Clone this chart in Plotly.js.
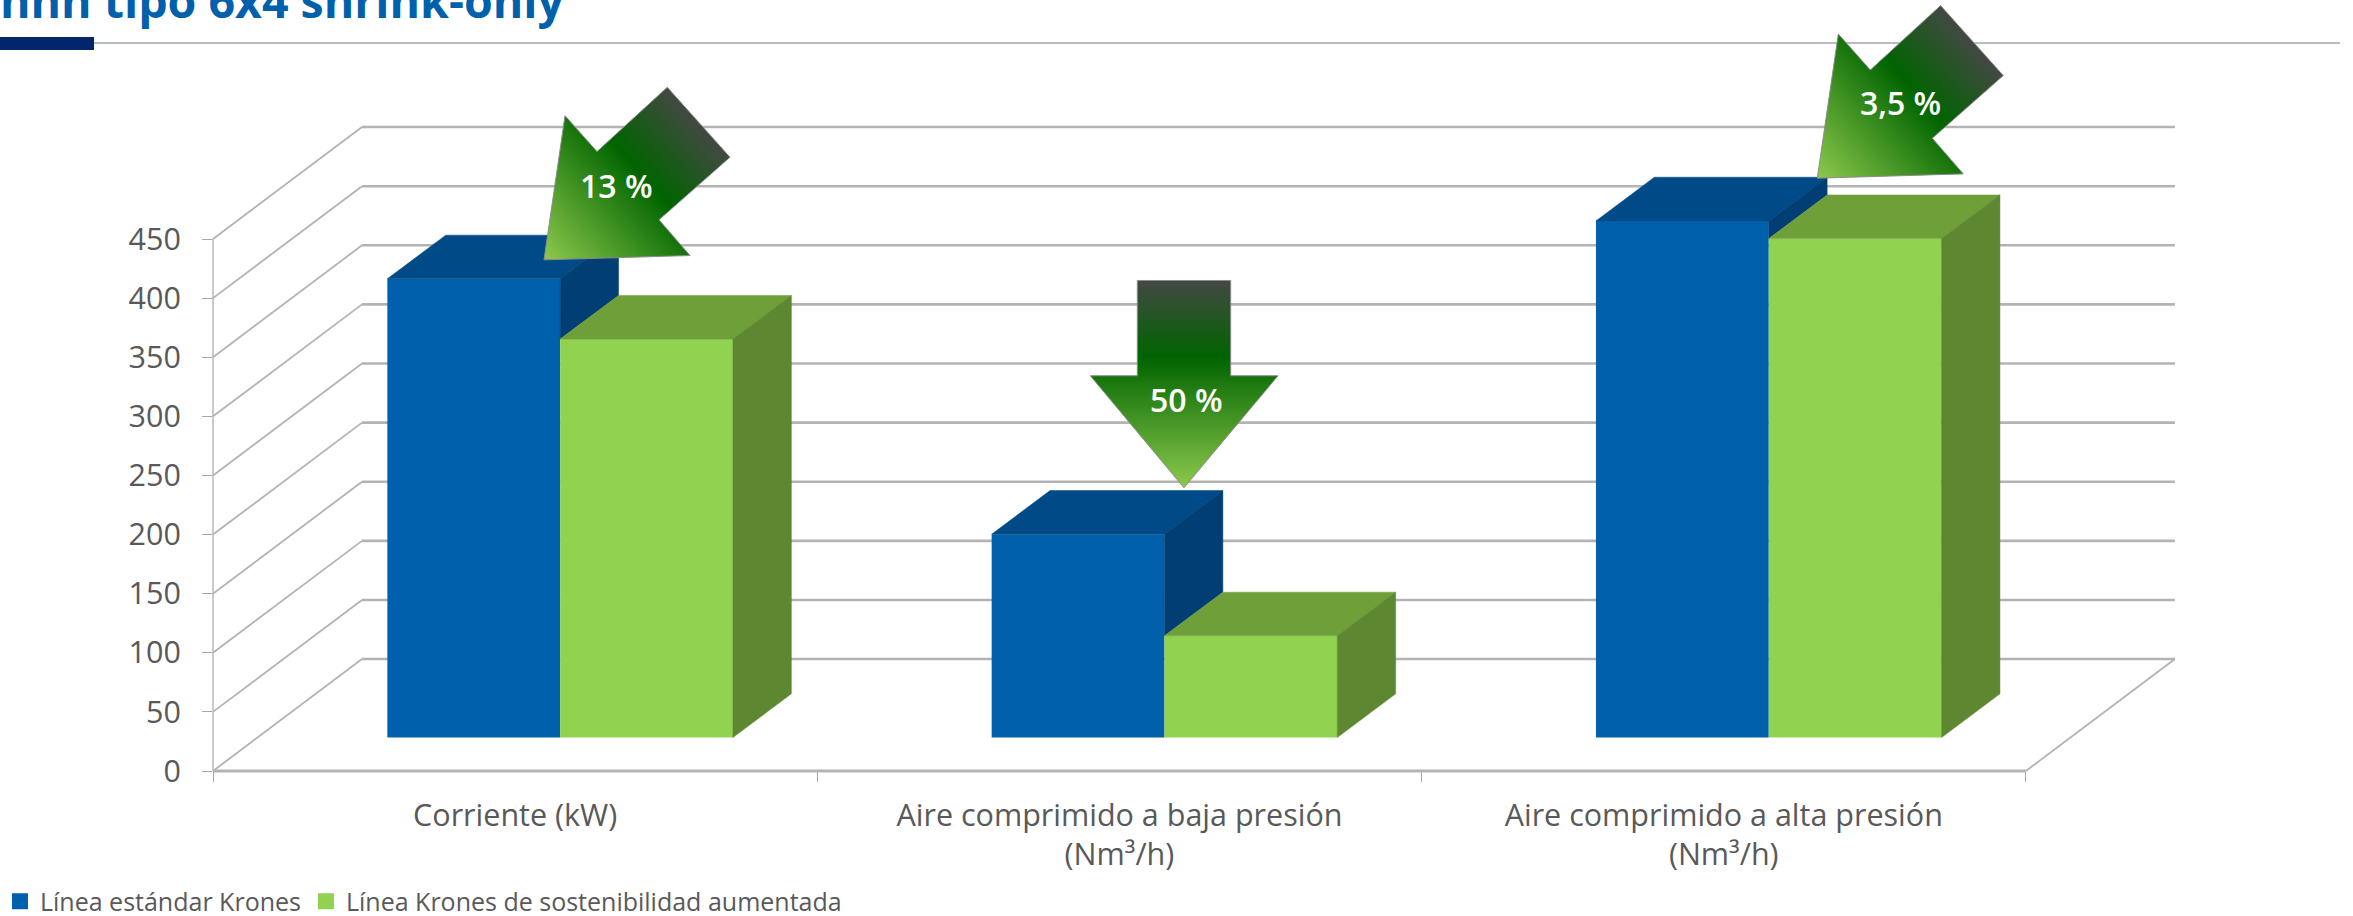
<!DOCTYPE html>
<html><head><meta charset="utf-8">
<script src="https://cdn.plot.ly/plotly-3.0.1.min.js"></script>
<style>html,body{margin:0;padding:0;background:#fff}</style></head>
<body><div id="chart" style="width:2353px;height:916px"></div>
<script>
const chartTitle = 'nnn tipo 6x4 shrink-only';
const categories = ['Corriente (kW)', 'Aire comprimido a baja presión<br>(Nm³/h)', 'Aire comprimido a alta presión<br>(Nm³/h)'];
const standardName = 'Línea estándar Krones';
const sustainableName = 'Línea Krones de sostenibilidad aumentada';
const standardValues = [388, 172, 437];
const sustainableValues = [337, 86, 422];
const yTicks = [0, 50, 100, 150, 200, 250, 300, 350, 400, 450];
const arrowLabels = ['13 %', '50 %', '3,5 %'];

const W = 2353, H = 916, L = 213, BOT = 771.5;
const pxPerCat = 604.3, pxPerVal = 1.183;
const xr = [-0.5, -0.5 + (W - L) / pxPerCat], yr = [0, BOT / pxPerVal];
const X = px => (px - L) / pxPerCat - 0.5, Y = py => (BOT - py) / pxPerVal;
const PX = px => (px - L) / (W - L), PY = py => 1 - py / BOT;
const dxW = 149 / pxPerCat, dyW = 112 / pxPerVal;           // wall depth
const fx = 45 / pxPerCat, base = 33.5 / pxPerVal;           // bar front inset
const bw = 172.8 / pxPerCat, bdx = 58.4 / pxPerCat, bdy = 43.7 / pxPerVal; // bar size
const xp = x => (x - xr[0]) / (xr[1] - xr[0]), yp = y => y / yr[1];

const C = {blue:'#0060ab', blueTop:'#004a87', blueSide:'#003e73', green:'#91d251', greenTop:'#6e9f39', greenSide:'#5d8731', grid:'#b3b3b3'};

const shapes = [];
const seg = (x0,y0,x1,y1,w,col) => shapes.push({type:'line',layer:'below',xref:'paper',yref:'paper',x0:xp(x0),y0:yp(y0),x1:xp(x1),y1:yp(y1),line:{color:col||C.grid,width:w}});
yTicks.forEach(v => {
  seg(-0.5, v, -0.5 + dxW, v + dyW, 1.8);
  seg(-0.5 + dxW, v + dyW, 2.5 + dxW, v + dyW, 2.6);
});
seg(-0.5, 0, 2.5, 0, 2.8);
seg(2.5, 0, 2.5 + dxW, dyW, 1.8);
seg(-0.5, 0, -0.5, yTicks[yTicks.length-1], 1.4);
// header rule and accent
shapes.push({type:'line',layer:'below',xref:'paper',yref:'paper',x0:PX(94),x1:PX(2340),y0:PY(43),y1:PY(43),line:{color:'#b9bdc1',width:2}});
shapes.push({type:'rect',layer:'below',xref:'paper',yref:'paper',x0:PX(0),x1:PX(94),y0:PY(37),y1:PY(50),fillcolor:'#03256c',line:{width:0}});

function face(xs, ys, color){
  return {type:'scatter',mode:'lines',x:xs,y:ys,fill:'toself',fillcolor:color,line:{color:color,width:0.5},hoverinfo:'skip',showlegend:false};
}
const traces = [];
const cx = categories.map((c,i)=>i+fx);
traces.push({type:'bar',name:standardName,x:cx,y:standardValues,base:base,width:bw,offset:-bw,marker:{color:C.blue,line:{width:0}},showlegend:false,hoverinfo:'skip'});
traces.push({type:'bar',name:sustainableName,x:cx,y:sustainableValues,base:base,width:bw,offset:0,marker:{color:C.green,line:{width:0}},showlegend:false,hoverinfo:'skip'});
categories.forEach((c,i)=>{
  const m = cx[i], a = standardValues[i]+base, b = sustainableValues[i]+base;
  traces.push(face([m-bw,m,m+bdx,m-bw+bdx,m-bw],[a,a,a+bdy,a+bdy,a],C.blueTop));
  traces.push(face([m,m+bdx,m+bdx,m,m],[a,a+bdy,b+bdy,b,a],C.blueSide));
  traces.push(face([m,m+bw,m+bw+bdx,m+bdx,m],[b,b,b+bdy,b+bdy,b],C.greenTop));
  traces.push(face([m+bw,m+bw+bdx,m+bw+bdx,m+bw,m+bw],[b,b+bdy,base+bdy,base,b],C.greenSide));
});
// legend entries
traces.push({type:'scatter',mode:'markers',name:standardName,x:[null],y:[null],marker:{symbol:'square',size:16,color:C.blue},showlegend:true});
traces.push({type:'scatter',mode:'markers',name:sustainableName,x:[null],y:[null],marker:{symbol:'square',size:16,color:C.green},showlegend:true});

// gradient arrows as inline SVG
function arrowImage(pts, from, to){
  const xs = pts.map(p=>p[0]), ys = pts.map(p=>p[1]);
  const x0 = Math.min(...xs)-2, x1 = Math.max(...xs)+2, y0 = Math.min(...ys)-2, y1 = Math.max(...ys)+2;
  const w = x1-x0, h = y1-y0;
  const svg = `<svg xmlns="http://www.w3.org/2000/svg" width="${w}" height="${h}" viewBox="${x0} ${y0} ${w} ${h}"><defs><linearGradient id="g" gradientUnits="userSpaceOnUse" x1="${from[0]}" y1="${from[1]}" x2="${to[0]}" y2="${to[1]}"><stop offset="0" stop-color="#434843"/><stop offset="0.37" stop-color="#006400"/><stop offset="1" stop-color="#8dc94c"/></linearGradient></defs><polygon points="${pts.map(p=>p.join(',')).join(' ')}" fill="url(#g)" stroke="#8c8c8c" stroke-width="1"/></svg>`;
  return {source:'data:image/svg+xml;charset=utf-8,'+encodeURIComponent(svg),xref:'paper',yref:'paper',x:PX(x0),y:PY(y0),sizex:w/(W-L),sizey:h/BOT,sizing:'stretch',xanchor:'left',yanchor:'top',layer:'above'};
}
const diag = (ox,oy) => [[544,260],[565,115.7],[597,151.7],[667.3,87.3],[730,157.3],[659,220],[690,255.7]].map(p=>[p[0]+ox,p[1]+oy]);
const images = [
  arrowImage(diag(0,0),[698.6,122.3],[544,260]),
  arrowImage([[1137.3,280.7],[1230.7,280.7],[1230.7,376],[1278,376],[1184,488],[1090.3,376],[1137.3,376]],[1184,280.7],[1184,488]),
  arrowImage(diag(1273.3,-81.7),[698.6+1273.3,122.3-81.7],[1817.3,178.3])
];
const labelPos = [[616,186],[1186,399.5],[1900,103]];
const annotations = arrowLabels.map((t,i)=>({text:t,xref:'x',yref:'y',x:X(labelPos[i][0]),y:Y(labelPos[i][1]),showarrow:false,xanchor:'center',yanchor:'middle',font:{family:'Open Sans',size:32,color:'#fff',weight:600}}));

const layout = {
  width:W,height:H,margin:{l:L,r:0,t:0,b:H-BOT,pad:0,autoexpand:false},
  paper_bgcolor:'#fff',plot_bgcolor:'rgba(0,0,0,0)',
  title:{text:chartTitle,x:0,xref:'container',xanchor:'left',y:1-2/H,yref:'container',yanchor:'middle',font:{family:'Open Sans',size:46.5,weight:700,color:'#0060ab'}},
  barmode:'overlay',
  showlegend:true,
  legend:{orientation:'h',x:PX(0),y:PY(902),xanchor:'left',yanchor:'middle',xref:'paper',yref:'paper',font:{family:'Open Sans',size:25,color:'#595959'},bgcolor:'rgba(0,0,0,0)',borderwidth:0,itemwidth:30,traceorder:'normal'},
  xaxis:{range:xr,tickmode:'array',tickvals:categories.map((c,i)=>i),ticktext:categories,ticks:'',showgrid:false,zeroline:false,showline:false,tickangle:0,
    tickfont:{family:'Open Sans',size:30.5,color:'#595959'},ticklabelstandoff:23,
    minor:{tickmode:'array',tickvals:[-0.5,0.5,1.5,2.5],ticks:'outside',ticklen:10,tickwidth:1,tickcolor:'#a6a6a6',showgrid:false}},
  yaxis:{range:yr,tickmode:'array',tickvals:yTicks,ticks:'outside',ticklen:10,tickwidth:1,tickcolor:'#a6a6a6',showgrid:false,zeroline:false,showline:false,
    tickfont:{family:'Open Sans',size:30.5,color:'#595959'},ticklabelstandoff:15},
  shapes,images,annotations
};
Plotly.newPlot('chart',traces,layout,{displayModeBar:false,staticPlot:true});
</script></body></html>
